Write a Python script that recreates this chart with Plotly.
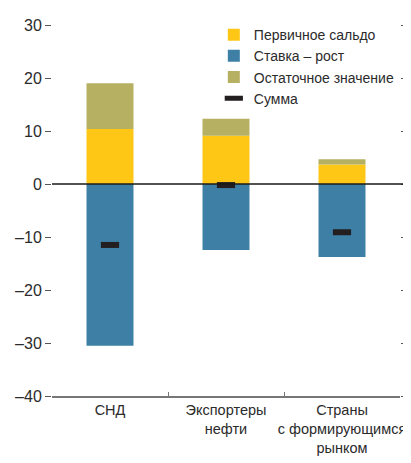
import plotly.graph_objects as go

categories = ["СНД", "Экспортеры<br>нефти", "Страны<br>с формирующимся<br>рынком"]
primary_balance = [10.4, 9.1, 3.7]
rate_growth = [-30.5, -12.45, -13.75]
residual = [8.6, 3.2, 0.95]
total = [-11.5, -0.2, -9.1]

y_tickvals = [30, 20, 10, 0, -10, -20, -30, -40]
y_ticktext = ["30", "20", "10", "0", "–10", "–20", "–30", "–40"]

FONT = "Liberation Sans, Arial, sans-serif"
TXT = "#2b2b2b"

fig = go.Figure()
fig.add_bar(x=categories, y=primary_balance, name="Первичное сальдо",
            marker=dict(color="#FFC715", line=dict(width=0)), width=0.405)
fig.add_bar(x=categories, y=rate_growth, name="Ставка – рост",
            marker=dict(color="#3E7FA5", line=dict(width=0)), width=0.405)
fig.add_bar(x=categories, y=residual, name="Остаточное значение",
            marker=dict(color="#B6B062", line=dict(width=0)), width=0.405)
fig.add_scatter(x=categories, y=total, name="Сумма", mode="markers",
                marker=dict(symbol="line-ew", size=13, color="#231F20",
                            line=dict(width=6, color="#231F20")))
fig.add_scatter(x=categories, y=total, yaxis="y2", mode="markers",
                marker=dict(opacity=0), showlegend=False, hoverinfo="skip")

fig.update_layout(
    width=403, height=455,
    margin=dict(l=44, r=11, t=12, b=67),
    barmode="relative",
    plot_bgcolor="white", paper_bgcolor="white",
    font=dict(family=FONT, size=14, color=TXT),
    showlegend=True,
    legend=dict(x=0.465, y=1.016, xanchor="left", yanchor="top",
                bgcolor="rgba(0,0,0,0)", font=dict(size=14, color=TXT),
                tracegroupgap=0, itemwidth=30, borderwidth=0),
    xaxis=dict(showline=True, linecolor="#777777", linewidth=1.5,
               ticks="inside", ticklen=4, tickcolor="#777777",
               tickson="boundaries", showgrid=False, tickangle=0,
               automargin=False,
               tickfont=dict(size=14.5, color=TXT)),
    yaxis=dict(range=[-40, 30], tickvals=y_tickvals, ticktext=y_ticktext,
               ticks="outside", ticklen=6, tickcolor="#555555", tickwidth=1,
               showgrid=False, zeroline=False, showline=False,
               automargin=False,
               tickfont=dict(size=16, color=TXT)),
    yaxis2=dict(range=[-40, 30], tickvals=y_tickvals, overlaying="y",
                side="right", ticks="outside", ticklen=5,
                tickcolor="#555555", showticklabels=False, automargin=False,
                showgrid=False, zeroline=False, showline=False),
    shapes=[
        dict(type="line", xref="paper", yref="y", x0=0, x1=1.01, y0=0, y1=0,
             line=dict(color="#1a1a1a", width=1.5), layer="above"),
    ],
)

fig.write_html("out.html")
